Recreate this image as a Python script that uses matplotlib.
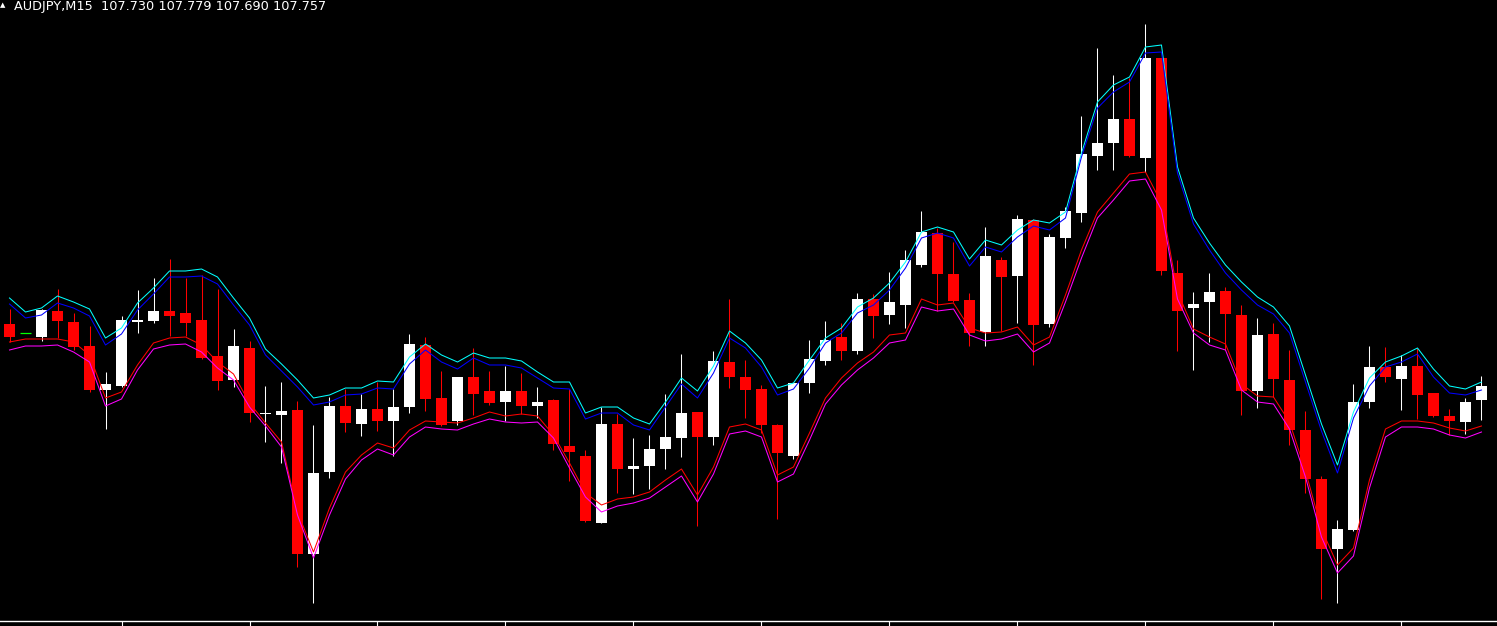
import matplotlib
matplotlib.use("Agg")
import matplotlib.pyplot as plt
import numpy as np

# AUDJPY M15 candles (price)
opens = [107.882, 107.864, 107.856, 107.908, 107.886, 107.838, 107.750, 107.758, 107.886, 107.888,
         107.908, 107.904, 107.890, 107.818, 107.770, 107.834, 107.702, 107.700, 107.710, 107.422,
         107.586, 107.718, 107.682, 107.712, 107.688, 107.716, 107.840, 107.734, 107.688, 107.776,
         107.748, 107.726, 107.748, 107.718, 107.730, 107.638, 107.618, 107.484, 107.682, 107.592,
         107.598, 107.632, 107.654, 107.706, 107.656, 107.806, 107.776, 107.752, 107.680, 107.618,
         107.764, 107.808, 107.856, 107.828, 107.932, 107.900, 107.920, 108.000, 108.064, 107.982,
         107.930, 107.866, 108.010, 107.978, 108.090, 107.882, 108.054, 108.104, 108.218, 108.244,
         108.292, 108.214, 108.414, 107.984, 107.914, 107.926, 107.948, 107.900, 107.748, 107.862,
         107.770, 107.670, 107.572, 107.432, 107.470, 107.726, 107.796, 107.772, 107.798, 107.744,
         107.698, 107.686, 107.730]
highs = [107.912, 107.864, 107.912, 107.952, 107.904, 107.878, 107.786, 107.898, 107.950, 107.974,
         108.012, 107.974, 107.980, 107.952, 107.872, 107.848, 107.758, 107.766, 107.728, 107.680,
         107.736, 107.752, 107.742, 107.766, 107.752, 107.862, 107.856, 107.788, 107.776, 107.834,
         107.788, 107.798, 107.784, 107.756, 107.732, 107.752, 107.630, 107.716, 107.702, 107.654,
         107.660, 107.742, 107.822, 107.706, 107.828, 107.932, 107.810, 107.760, 107.682, 107.764,
         107.850, 107.888, 107.884, 107.944, 107.942, 107.986, 108.030, 108.108, 108.074, 108.046,
         107.944, 108.076, 108.016, 108.100, 108.092, 108.062, 108.116, 108.298, 108.434, 108.380,
         108.374, 108.482, 108.414, 108.010, 107.946, 107.984, 107.956, 107.920, 107.894, 107.884,
         107.830, 107.708, 107.578, 107.490, 107.762, 107.838, 107.836, 107.820, 107.834, 107.744,
         107.712, 107.734, 107.779]
lows = [107.846, 107.864, 107.848, 107.854, 107.830, 107.746, 107.672, 107.756, 107.864, 107.884,
        107.858, 107.858, 107.812, 107.750, 107.756, 107.686, 107.646, 107.604, 107.396, 107.324,
        107.574, 107.666, 107.658, 107.668, 107.618, 107.704, 107.708, 107.678, 107.680, 107.700,
        107.720, 107.688, 107.702, 107.694, 107.630, 107.568, 107.486, 107.484, 107.544, 107.542,
        107.552, 107.592, 107.616, 107.478, 107.640, 107.754, 107.694, 107.664, 107.492, 107.612,
        107.744, 107.800, 107.810, 107.822, 107.854, 107.882, 107.874, 107.996, 107.908, 107.926,
        107.838, 107.838, 107.868, 107.884, 107.800, 107.876, 108.034, 108.086, 108.190, 108.190,
        108.216, 108.186, 107.980, 107.828, 107.790, 107.846, 107.830, 107.700, 107.714, 107.736,
        107.640, 107.544, 107.332, 107.324, 107.468, 107.714, 107.766, 107.710, 107.692, 107.696,
        107.660, 107.662, 107.690]
closes = [107.856, 107.864, 107.910, 107.888, 107.836, 107.750, 107.762, 107.890, 107.890, 107.908,
          107.898, 107.884, 107.814, 107.768, 107.838, 107.704, 107.704, 107.708, 107.422, 107.584,
          107.718, 107.684, 107.712, 107.688, 107.716, 107.842, 107.732, 107.680, 107.776, 107.742,
          107.724, 107.748, 107.718, 107.726, 107.642, 107.626, 107.488, 107.682, 107.592, 107.598,
          107.632, 107.656, 107.704, 107.656, 107.808, 107.776, 107.750, 107.680, 107.624, 107.764,
          107.812, 107.850, 107.828, 107.932, 107.898, 107.926, 108.010, 108.066, 107.982, 107.928,
          107.864, 108.018, 107.976, 108.092, 107.880, 108.056, 108.108, 108.222, 108.244, 108.292,
          108.218, 108.414, 107.988, 107.908, 107.922, 107.946, 107.902, 107.748, 107.860, 107.772,
          107.670, 107.572, 107.432, 107.472, 107.726, 107.796, 107.776, 107.798, 107.740, 107.698,
          107.688, 107.726, 107.757]

# indicator lines
upper_cyan = [107.934, 107.906, 107.914, 107.938, 107.926, 107.912, 107.854, 107.874, 107.924, 107.954,
              107.988, 107.988, 107.992, 107.976, 107.934, 107.894, 107.832, 107.802, 107.770, 107.734,
              107.740, 107.754, 107.754, 107.768, 107.766, 107.816, 107.842, 107.820, 107.806, 107.824,
              107.814, 107.814, 107.808, 107.786, 107.766, 107.766, 107.704, 107.716, 107.716, 107.694,
              107.682, 107.726, 107.774, 107.748, 107.798, 107.868, 107.844, 107.810, 107.754, 107.764,
              107.810, 107.854, 107.874, 107.916, 107.934, 107.964, 108.006, 108.066, 108.076, 108.066,
              108.012, 108.050, 108.040, 108.070, 108.090, 108.084, 108.106, 108.224, 108.326, 108.360,
              108.376, 108.436, 108.440, 108.196, 108.094, 108.044, 108.000, 107.966, 107.936, 107.916,
              107.878, 107.780, 107.682, 107.600, 107.706, 107.774, 107.806, 107.818, 107.834, 107.792,
              107.758, 107.752, 107.766]
upper_blue = [107.922, 107.894, 107.900, 107.924, 107.914, 107.898, 107.840, 107.862, 107.910, 107.942,
              107.976, 107.976, 107.978, 107.962, 107.920, 107.880, 107.820, 107.788, 107.756, 107.720,
              107.726, 107.740, 107.742, 107.754, 107.752, 107.802, 107.830, 107.806, 107.792, 107.814,
              107.800, 107.800, 107.794, 107.774, 107.754, 107.752, 107.692, 107.704, 107.704, 107.680,
              107.670, 107.716, 107.762, 107.734, 107.784, 107.854, 107.834, 107.796, 107.740, 107.752,
              107.794, 107.844, 107.864, 107.904, 107.920, 107.950, 107.994, 108.054, 108.064, 108.054,
              107.998, 108.036, 108.026, 108.056, 108.078, 108.070, 108.094, 108.216, 108.314, 108.346,
              108.366, 108.424, 108.426, 108.184, 108.082, 108.030, 107.984, 107.950, 107.920, 107.902,
              107.864, 107.766, 107.668, 107.584, 107.694, 107.758, 107.796, 107.806, 107.822, 107.776,
              107.744, 107.740, 107.750]
lower_red = [107.846, 107.852, 107.852, 107.852, 107.846, 107.820, 107.734, 107.746, 107.800, 107.844,
             107.854, 107.856, 107.840, 107.806, 107.782, 107.724, 107.684, 107.646, 107.506, 107.426,
             107.514, 107.586, 107.620, 107.644, 107.634, 107.670, 107.688, 107.686, 107.684, 107.694,
             107.706, 107.698, 107.702, 107.698, 107.660, 107.604, 107.544, 107.520, 107.532, 107.536,
             107.546, 107.570, 107.592, 107.540, 107.596, 107.676, 107.682, 107.670, 107.580, 107.596,
             107.664, 107.734, 107.774, 107.804, 107.826, 107.860, 107.864, 107.932, 107.920, 107.924,
             107.874, 107.864, 107.866, 107.876, 107.840, 107.856, 107.940, 108.030, 108.106, 108.144,
             108.182, 108.186, 108.124, 107.946, 107.872, 107.856, 107.842, 107.762, 107.738, 107.736,
             107.686, 107.588, 107.472, 107.400, 107.434, 107.570, 107.672, 107.688, 107.688, 107.684,
             107.674, 107.668, 107.678]
lower_magenta = [107.830, 107.838, 107.838, 107.840, 107.826, 107.806, 107.718, 107.732, 107.790, 107.832,
                 107.840, 107.842, 107.826, 107.794, 107.770, 107.716, 107.678, 107.636, 107.500, 107.414,
                 107.500, 107.572, 107.610, 107.632, 107.620, 107.656, 107.676, 107.672, 107.670, 107.682,
                 107.692, 107.686, 107.684, 107.686, 107.654, 107.594, 107.536, 107.506, 107.518, 107.524,
                 107.534, 107.556, 107.578, 107.526, 107.582, 107.662, 107.668, 107.656, 107.566, 107.582,
                 107.650, 107.722, 107.760, 107.790, 107.814, 107.844, 107.850, 107.916, 107.908, 107.912,
                 107.860, 107.848, 107.852, 107.862, 107.826, 107.844, 107.926, 108.014, 108.094, 108.130,
                 108.168, 108.172, 108.110, 107.932, 107.864, 107.840, 107.830, 107.750, 107.726, 107.722,
                 107.672, 107.576, 107.456, 107.384, 107.418, 107.554, 107.656, 107.676, 107.676, 107.672,
                 107.660, 107.654, 107.666]

title = "AUDJPY,M15  107.730 107.779 107.690 107.757"

o = np.array(opens)
h = np.array(highs)
l = np.array(lows)
c = np.array(closes)
x = np.arange(len(o))

fig = plt.figure(figsize=(14.97, 6.26), dpi=100, facecolor="black")
ax = fig.add_axes([0, 5 / 626, 1, 621 / 626], facecolor="black")

bull = c > o
doji = c == o
colors = np.where(bull, "white", "#ff0000")

# wicks
ax.vlines(x[~doji], l[~doji], h[~doji], colors=colors[~doji], linewidth=0.75, zorder=1)
# bodies
body_bottom = np.minimum(o, c)
body_h = np.maximum(np.abs(c - o), 0.0015)
ax.bar(x[~doji], body_h[~doji], bottom=body_bottom[~doji], width=0.7,
       color=colors[~doji], linewidth=0, zorder=2)
# doji drawn in chart line colour
ax.hlines(c[doji], x[doji] - 0.35, x[doji] + 0.35, colors="#00ff00", linewidth=0.9, zorder=2)

# band lines on top
ax.plot(x, upper_cyan, color="#00ffff", linewidth=0.75, zorder=3)
ax.plot(x, upper_blue, color="#0000ff", linewidth=0.75, zorder=3)
ax.plot(x, lower_red, color="#ff0000", linewidth=0.75, zorder=3)
ax.plot(x, lower_magenta, color="#ff00ff", linewidth=0.75, zorder=3)

# 16 px per bar, 0.002 per px
ax.set_xlim(-0.594, 92.97)
ax.set_ylim(108.53 - 0.002 * 621, 108.53)

for s in ["top", "left", "right"]:
    ax.spines[s].set_visible(False)
ax.spines["bottom"].set_color("white")
ax.spines["bottom"].set_linewidth(1.0)
ax.set_yticks([])
ax.set_xticks(np.arange(7, len(o), 8))
ax.set_xticklabels([])
ax.tick_params(axis="x", colors="white", length=4, width=0.8, direction="out")

fig.text(14 / 1497, 1 - 10 / 626, title, color="white", fontsize=9.3,
         ha="left", va="baseline", family="DejaVu Sans")
fig.text(0, 1 - 7 / 626, "\u25b2", color="white", fontsize=5, ha="left", va="baseline")

fig.savefig("out.png", dpi=100, facecolor="black")
